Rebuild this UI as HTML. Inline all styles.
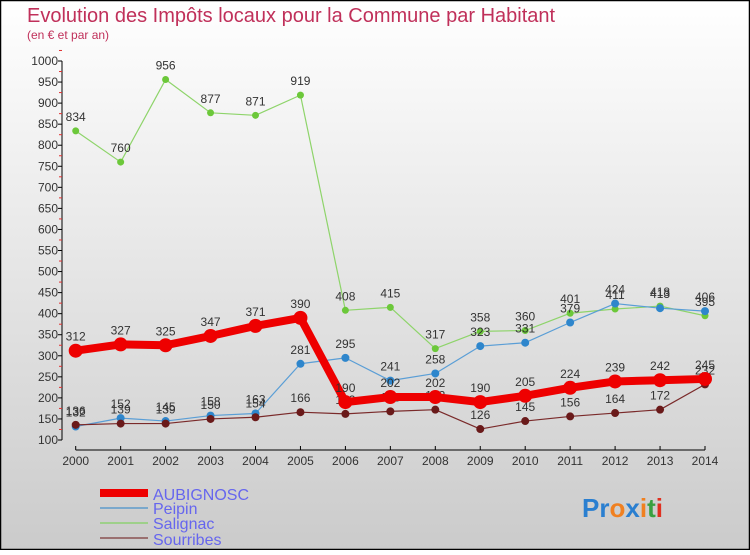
<!DOCTYPE html>
<html><head><meta charset="utf-8"><style>
body{margin:0;width:750px;height:550px;overflow:hidden;font-family:"Liberation Sans",sans-serif}
svg text{font-family:"Liberation Sans",sans-serif}
</style></head><body>
<svg id="chart" width="750" height="550" xmlns="http://www.w3.org/2000/svg">
<defs><linearGradient id="bg" x1="0" y1="0" x2="0" y2="1"><stop offset="0" stop-color="#ffffff"/><stop offset="1" stop-color="#cbcbcb"/></linearGradient></defs>
<rect x="0.5" y="0.5" width="749" height="549" fill="url(#bg)" stroke="#000" stroke-width="1.5"/>
<text x="27" y="22" font-size="20" fill="#c0305a">Evolution des Impôts locaux pour la Commune par Habitant</text>
<text x="27" y="39" font-size="12" fill="#c0305a">(en € et par an)</text>
<g id="axes"></g><g id="series"></g>
<g>
<line x1="100" y1="493" x2="148" y2="493" stroke="#ee0000" stroke-width="8"/>
<text x="153" y="500" font-size="16" fill="#6666ee">AUBIGNOSC</text>
<line x1="100" y1="508" x2="148" y2="508" stroke="#7aa8cc" stroke-width="2"/>
<text x="153" y="514" font-size="16" fill="#6666ee">Peipin</text>
<line x1="100" y1="523" x2="148" y2="523" stroke="#9ed08a" stroke-width="2"/>
<text x="153" y="529" font-size="16" fill="#6666ee">Salignac</text>
<line x1="100" y1="538" x2="148" y2="538" stroke="#9a7070" stroke-width="2"/>
<text x="153" y="545" font-size="16" fill="#6666ee">Sourribes</text>
</g>
<text x="582" y="517" font-size="26" font-weight="bold"><tspan fill="#2a7fd0">Pr</tspan><tspan fill="#f08020">o</tspan><tspan fill="#2a7fd0">x</tspan><tspan fill="#f08020">i</tspan><tspan fill="#3aa040">t</tspan><tspan fill="#e03020">i</tspan></text>
</svg>
<script>
const years=[2000,2001,2002,2003,2004,2005,2006,2007,2008,2009,2010,2011,2012,2013,2014];
const yTicks=[100,150,200,250,300,350,400,450,500,550,600,650,700,750,800,850,900,950,1000];
const aubignosc=[312,327,325,347,371,390,190,202,202,190,205,224,239,242,245];
const peipin=[132,152,145,158,163,281,295,241,258,323,331,379,424,413,406];
const salignac=[834,760,956,877,871,919,408,415,317,358,360,401,411,418,395];
const sourribes=[136,139,139,150,154,166,162,168,172,126,145,156,164,172,232];
const NS="http://www.w3.org/2000/svg";
const xS=i=>75.7+i*(705-75.7)/(years.length-1);
const yS=v=>440-(v-100)*(440-61)/900;
function mk(tag,attrs,parent){const e=document.createElementNS(NS,tag);for(const k in attrs)e.setAttribute(k,attrs[k]);parent.appendChild(e);return e;}
const ax=document.getElementById('axes');
let l=mk('line',{x1:62,y1:yS(1000),x2:62,y2:yS(100),stroke:'#000'},ax);


yTicks.forEach(v=>{
 const t=mk('line',{x1:58,y1:yS(v),x2:62,y2:yS(v),stroke:'#000'},ax);
 
 
 const m=mk('line',{x1:59,y1:yS(v+25),x2:62,y2:yS(v+25),stroke:'#e03030'},ax);
 
 
 const tx=mk('text',{x:58,y:yS(v)+4,'font-size':12,fill:'#333','text-anchor':'end'},ax);
 tx.textContent=v;
 
 
});
l=mk('line',{x1:xS(0),y1:450,x2:xS(14),y2:450,stroke:'#000'},ax);


years.forEach((y,i)=>{
 const t=mk('line',{x1:xS(i),y1:446,x2:xS(i),y2:450,stroke:'#000'},ax);
 
 
 const tx=mk('text',{x:xS(i),y:465,'font-size':12,fill:'#333','text-anchor':'middle'},ax);
 tx.textContent=y;
 
 
});
const sg=document.getElementById('series');
function draw(name,data,color,w,r,dot){
 const g=mk('g',{},sg);
 
 
 const p=mk('polyline',{points:data.map((v,i)=>xS(i)+','+yS(v)).join(' '),fill:'none',stroke:color,'stroke-width':w,'stroke-linejoin':'round'},g);
 
 
 data.forEach((v,i)=>{
  const c=mk('circle',{cx:xS(i),cy:yS(v),r:r,fill:dot},g);
  
  
  const t=mk('text',{x:xS(i),y:yS(v)-10,'font-size':12,fill:'#333','text-anchor':'middle'},g);
  t.textContent=v;
  
  
 });
}
draw('salignac',salignac,'#8ed46a',1.2,3.5,'#6cc83a');
draw('peipin',peipin,'#5a9ed6',1.2,4,'#2e86cc');
draw('sourribes',sourribes,'#7a2a2a',1.2,4,'#6a1a1a');
draw('aubignosc',aubignosc,'#ee0000',8,7,'#ee0000');
</script>
</body></html>
